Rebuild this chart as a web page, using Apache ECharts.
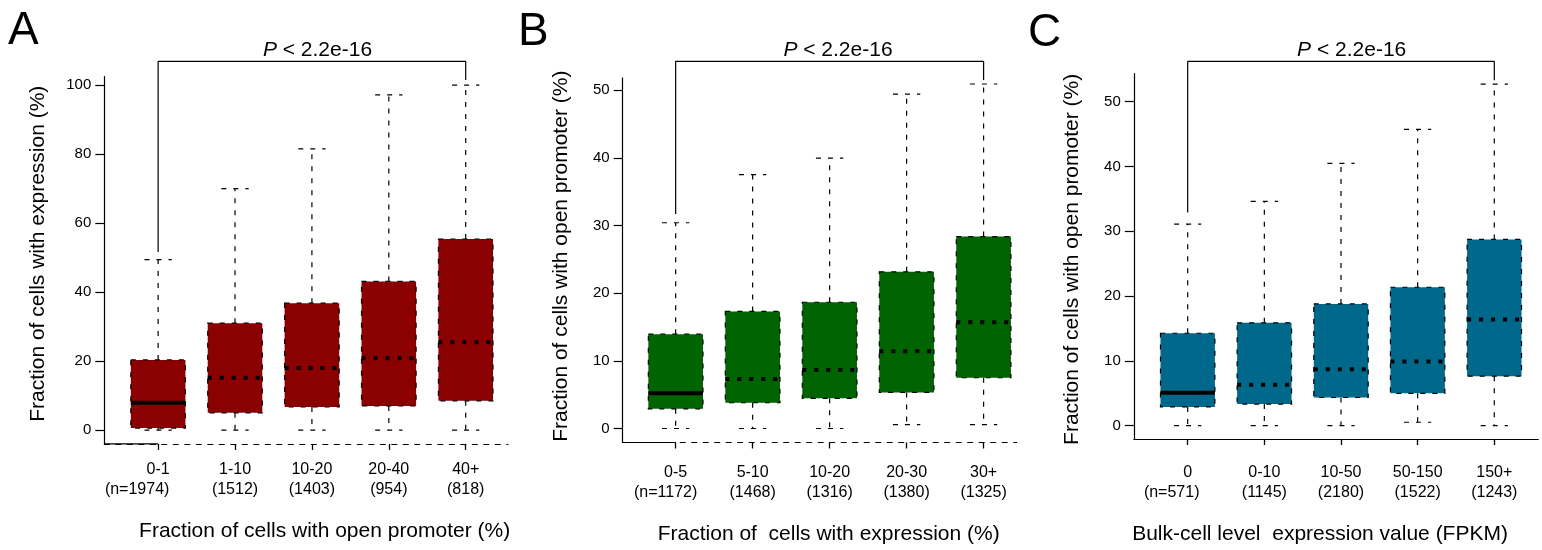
<!DOCTYPE html>
<html><head><meta charset="utf-8">
<script src="https://cdn.jsdelivr.net/npm/echarts@6/dist/echarts.min.js"></script>
<style>html,body{margin:0;padding:0;background:#fff}#c{width:1542px;height:550px}</style>
</head><body><div id="c"></div>
<script>
// ---- data ----
const catsA = ['0-1', '1-10', '10-20', '20-40', '40+'];
const nA = ['(n=1974)', '(1512)', '(1403)', '(954)', '(818)'];
// [lower whisker, Q1, median, Q3, upper whisker]
const boxA = [
  [0, 0.6, 7.9, 20.35, 49.4],
  [0, 5.0, 15.2, 31.0, 70.0],
  [0, 6.7, 18.0, 36.8, 81.5],
  [0, 7.0, 20.8, 43.1, 97.2],
  [0, 8.5, 25.5, 55.4, 100]
];
const ticksA = [0, 20, 40, 60, 80, 100];

const catsB = ['0-5', '5-10', '10-20', '20-30', '30+'];
const nB = ['(n=1172)', '(1468)', '(1316)', '(1380)', '(1325)'];
const boxB = [
  [0, 2.9, 5.2, 13.93, 30.4],
  [0, 3.8, 7.3, 17.3, 37.5],
  [0, 4.45, 8.65, 18.65, 39.95],
  [0.57, 5.33, 11.4, 23.15, 49.4],
  [0.57, 7.5, 15.7, 28.35, 50.9]
];
const ticksB = [0, 10, 20, 30, 40, 50];

const catsC = ['0', '0-10', '10-50', '50-150', '150+'];
const nC = ['(n=571)', '(1145)', '(2180)', '(1522)', '(1243)'];
const boxC = [
  [0, 2.9, 5.1, 14.26, 31.1],
  [0, 3.33, 6.3, 15.87, 34.6],
  [0, 4.35, 8.72, 18.78, 40.47],
  [0.53, 5.0, 9.9, 21.36, 45.7],
  [0, 7.64, 16.4, 28.74, 52.7]
];
const ticksC = [0, 10, 20, 30, 40, 50];

// ---- layout / style config ----
const FONT = "'Liberation Sans', Arial, Helvetica, sans-serif";
const panels = [
  { letter: 'A', cats: catsA, ns: nA, box: boxA, ticks: ticksA, color: '#8B0000',
    grid: { left: 104.3, top: 76.5, width: 403.7, height: 367.4 },
    xr: [0.3, 5.55], yr: [-4, 102.5], dashedAxis: true,
    xName: 'Fraction of cells with open promoter (%)', xGap: 77, xPad: 37,
    yName: 'Fraction of cells with expression (%)', yGap: 56, yPad: [0, 0, 0, 13],
    labMargin: 16, firstPad: 42, bracketY: 106.9, feet: [2.2, 1.5],
    letterXY: [8, 31.5], pX: 317.5 },
  { letter: 'B', cats: catsB, ns: nB, box: boxB, ticks: ticksB, color: '#006400',
    grid: { left: 622.7, top: 77.9, width: 394, height: 364.9 },
    xr: [0.312, 5.43], yr: [-2.07, 51.8], dashedAxis: true,
    xName: 'Fraction of  cells with expression (%)', xGap: 81.5, xPad: 18,
    yName: 'Fraction of cells with open promoter (%)', yGap: 50.5, yPad: [0, 0, 0, 8],
    labMargin: 20, firstPad: 20, bracketY: 54.25, feet: [1.3, 0.6],
    letterXY: [518, 32.7], pX: 838 },
  { letter: 'C', cats: catsC, ns: nC, box: boxC, ticks: ticksC, color: '#00688B',
    grid: { left: 1133.8, top: 73.7, width: 404.5, height: 367.4 },
    xr: [0.297, 5.574], yr: [-2.05, 54.3], dashedAxis: false,
    xName: 'Bulk-cell level  expression value (FPKM)', xGap: 85, xPad: -32,
    yName: 'Fraction of cells with open promoter (%)', yGap: 51.3, yPad: [0, 6, 0, 0],
    labMargin: 24, firstPad: 32, bracketY: 56.2, feet: [1.8, 0.6],
    letterXY: [1028, 33.5], pX: 1351.7 }
];

const DASH = [5, 7];
function makeRender(fill) {
  return function (params, api) {
    const x = api.value(0);
    const lo = api.value(1), q1 = api.value(2), md = api.value(3), q3 = api.value(4), hi = api.value(5);
    const w = api.size([0.71, 0])[0];
    const pm = api.coord([x, md]);
    const cx = pm[0];
    const yLo = api.coord([x, lo])[1], yQ1 = api.coord([x, q1])[1];
    const yQ3 = api.coord([x, q3])[1], yHi = api.coord([x, hi])[1];
    const ds = { stroke: '#000', lineWidth: 1.2, lineDash: DASH, fill: null };
    return {
      type: 'group',
      children: [
        { type: 'line', shape: { x1: cx, y1: yQ3, x2: cx, y2: yHi }, style: ds },
        { type: 'line', shape: { x1: cx, y1: yQ1, x2: cx, y2: yLo }, style: ds },
        { type: 'line', shape: { x1: cx - w / 4, y1: yHi, x2: cx + w / 4, y2: yHi }, style: ds },
        { type: 'line', shape: { x1: cx - w / 4, y1: yLo, x2: cx + w / 4, y2: yLo }, style: ds },
        { type: 'rect', shape: { x: cx - w / 2, y: yQ3, width: w, height: yQ1 - yQ3 },
          style: { fill: fill, stroke: '#000', lineWidth: 1.2, lineDash: DASH } },
        { type: 'line', shape: { x1: cx - w / 2, y1: pm[1], x2: cx + w / 2, y2: pm[1] },
          style: { stroke: '#000', lineWidth: 4, lineDash: params.dataIndex === 0 ? null : [4, 8] } }
      ]
    };
  };
}

const grids = [], xAxes = [], yAxes = [], series = [], graphics = [];
panels.forEach((p, k) => {
  grids.push(Object.assign({ containLabel: false }, p.grid));
  const idx = p.cats.map((c, i) => i + 1);
  xAxes.push({
    gridIndex: k, type: 'value', min: p.xr[0], max: p.xr[1],
    axisLine: { show: true, onZero: false,
      lineStyle: { color: '#000', width: 1.2, type: p.dashedAxis ? [5, 6.5] : 'solid' } },
    axisTick: { show: true, customValues: idx, length: 6, lineStyle: { color: '#000', width: 1.3 } },
    axisLabel: {
      customValues: idx, margin: p.labMargin, color: '#000', fontSize: 16, lineHeight: 20,
      fontFamily: FONT,
      formatter: function (v) {
        const i = Math.round(v) - 1;
        if (i === 0) return '{a|' + p.cats[i] + '}\n{b|' + p.ns[i] + '}';
        return p.cats[i] + '\n' + p.ns[i];
      },
      rich: {
        a: { fontSize: 16, lineHeight: 20, fontFamily: FONT, color: '#000' },
        b: { fontSize: 16, lineHeight: 20, fontFamily: FONT, color: '#000', padding: [0, p.firstPad, 0, 0] }
      }
    },
    splitLine: { show: false },
    name: p.xName, nameLocation: 'middle', nameGap: p.xGap,
    nameTextStyle: { fontSize: 21, color: '#000', fontFamily: FONT, padding: p.xPad >= 0 ? [0, 0, 0, p.xPad] : [0, -p.xPad, 0, 0] }
  });
  yAxes.push({
    gridIndex: k, type: 'value', min: p.yr[0], max: p.yr[1],
    axisLine: { show: true, onZero: false, lineStyle: { color: '#000', width: 1.2 } },
    axisTick: { show: true, customValues: p.ticks, length: 9, lineStyle: { color: '#000', width: 1.2 } },
    axisLabel: { customValues: p.ticks, margin: 13, color: '#000', fontSize: 15, fontFamily: FONT },
    splitLine: { show: false },
    name: p.yName, nameLocation: 'middle', nameGap: p.yGap,
    nameTextStyle: { fontSize: 21, color: '#000', fontFamily: FONT, padding: p.yPad }
  });
  series.push({
    type: 'custom', xAxisIndex: k, yAxisIndex: k,
    data: p.box.map((b, i) => [i + 1].concat(b)),
    encode: { x: 0, y: [1, 2, 3, 4, 5] },
    renderItem: makeRender(p.color), clip: false, silent: true
  });
  // significance bracket
  const last = p.box.length;
  series.push({
    type: 'line', xAxisIndex: k, yAxisIndex: k, symbol: 'none', clip: false, silent: true,
    lineStyle: { color: '#000', width: 1.2 },
    data: [[1, p.box[0][4] + p.feet[0]], [1, p.bracketY], [last, p.bracketY], [last, p.box[last - 1][4] + p.feet[1]]]
  });
  if (p.dashedAxis) {
    series.push({
      type: 'line', xAxisIndex: k, yAxisIndex: k, symbol: 'none', clip: false, silent: true,
      lineStyle: { color: '#000', width: 1.2 },
      data: [[p.xr[0], p.yr[0]], [1, p.yr[0]]]
    });
  }
  graphics.push({
    type: 'text', x: p.letterXY[0], y: p.letterXY[1],
    style: { text: p.letter, font: '46px ' + FONT, fill: '#000', textAlign: 'left', textVerticalAlign: 'middle' }
  });
  graphics.push({
    type: 'text', x: p.pX, y: 50.2,
    style: {
      text: '{i|P}{r| < 2.2e-16}', textAlign: 'center', textVerticalAlign: 'middle',
      rich: {
        i: { font: 'italic 21px ' + FONT, fill: '#000' },
        r: { font: '21px ' + FONT, fill: '#000' }
      }
    }
  });
});

const chart = echarts.init(document.getElementById('c'), null, { renderer: 'canvas' });
chart.setOption({
  animation: false,
  backgroundColor: '#fff',
  textStyle: { fontFamily: FONT },
  grid: grids, xAxis: xAxes, yAxis: yAxes, series: series, graphic: graphics
});
</script>
</body></html>
